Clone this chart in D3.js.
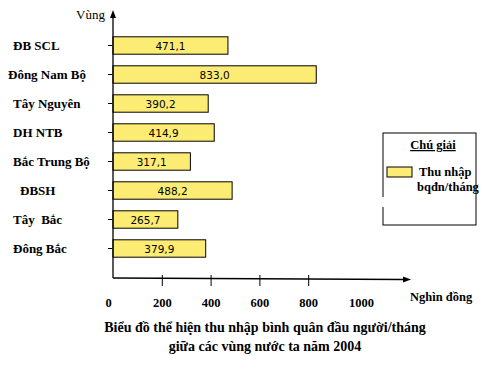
<!DOCTYPE html>
<html><head><meta charset="utf-8">
<script src="https://cdn.jsdelivr.net/npm/d3@7"></script>
<style>
html,body{margin:0;padding:0;background:#fff;}
svg{display:block;}
</style></head>
<body>
<script>
const categories = ["ĐB SCL","Đông Nam Bộ","Tây Nguyên","DH NTB","Bắc Trung Bộ","ĐBSH","Tây  Bắc","Đông Bắc"];
const values = [471.1, 833.0, 390.2, 414.9, 317.1, 488.2, 265.7, 379.9];
const valueLabels = ["471,1","833,0","390,2","414,9","317,1","488,2","265,7","379,9"];
const tickValues = [0, 200, 400, 600, 800, 1000];
const tickLabels = ["0","200","400","600","800","1000"];
const yAxisTitle = "Vùng";
const xAxisTitle = "Nghìn đồng";
const titleLines = ["Biểu đồ thể hiện thu nhập bình quân đầu người/tháng","giữa các vùng nước ta năm 2004"];
const legendTitle = "Chú giải";
const legendLines = ["Thu nhập","bqđn/tháng"];

const W = 491, H = 365;
const svg = d3.select("body").append("svg").attr("width", W).attr("height", H);
const serif = "Liberation Serif, Times New Roman, DejaVu Serif, serif";
const barColor = "#fcec74";

const axisX = 113, axisY = 278;
const x = d3.scaleLinear().domain([0, 1000]).range([axisX, 357]);
const y = d3.scaleBand().domain(categories).range([25.2, 268.8]).paddingInner(0.4).paddingOuter(0.4);

// bars
svg.append("g").selectAll("rect").data(values).join("rect")
  .attr("x", x(0)).attr("y", (d,i) => y(categories[i]))
  .attr("width", d => x(d) - x(0)).attr("height", y.bandwidth())
  .attr("fill", barColor).attr("stroke", "#000").attr("stroke-width", 1);

// value labels
svg.append("g").selectAll("text").data(values).join("text")
  .attr("x", d => (x(0) + x(d)) / 2)
  .attr("y", (d,i) => y(categories[i]) + y.bandwidth()/2 + 4)
  .attr("text-anchor", "middle")
  .attr("font-family", "'DejaVu Sans',sans-serif").attr("font-size", 10.5)
  .text((d,i) => valueLabels[i]);

// y axis
const yAxis = d3.axisLeft(y).tickSize(4).tickPadding(0).tickFormat("");
const gy = svg.append("g").attr("transform", `translate(${axisX-1},0)`).call(yAxis);
gy.select(".domain").remove();
gy.selectAll(".tick line").attr("stroke", "#000").attr("x2", -4);
svg.append("line").attr("x1", axisX).attr("x2", axisX).attr("y1", 16).attr("y2", axisY)
  .attr("stroke", "#000").attr("stroke-width", 1.3);
svg.append("path").attr("d", `M${axisX},10 L${axisX-3},18 L${axisX+3},18 Z`).attr("fill", "#000");

// category labels
svg.append("g").selectAll("text").data(categories).join("text")
  .attr("x", (d,i) => i === 1 ? 8 : (i === 5 ? 20 : 13))
  .attr("y", d => y(d) + y.bandwidth()/2 + 4)
  .attr("font-family", serif).attr("font-weight", "bold").attr("font-size", 13)
  .style("white-space", "pre")
  .text(d => d);

svg.append("text").attr("x", 105).attr("y", 19).attr("text-anchor", "end")
  .attr("font-family", serif).attr("font-size", 13).text(yAxisTitle);

// x axis
svg.append("line").attr("x1", axisX).attr("x2", 404).attr("y1", axisY).attr("y2", axisY + 1.5)
  .attr("stroke", "#000").attr("stroke-width", 1.3);
svg.append("path").attr("d", `M411,${axisY+1.5} L403,${axisY-1.5} L403,${axisY+4.5} Z`).attr("fill", "#000");
const xAxis = d3.axisBottom(x).tickValues(tickValues).tickSize(0).tickPadding(20)
  .tickFormat((d,i) => tickLabels[i]);
const gx = svg.append("g").attr("transform", `translate(0,${axisY})`).call(xAxis);
gx.select(".domain").remove();
gx.selectAll(".tick line").attr("stroke", "#000")
  .attr("y1", -3).attr("y2", 8)
  .attr("display", d => (d === 0 || d === 1000) ? "none" : null);
gx.selectAll(".tick text").attr("font-family", serif).attr("font-weight", "bold")
  .attr("font-size", 12.5).attr("fill", "#000")
  .attr("dx", d => d === 0 ? -5 : (d === 1000 ? 4 : 0));

svg.append("text").attr("x", 410).attr("y", 301)
  .attr("font-family", serif).attr("font-weight", "bold").attr("font-size", 12.5).text(xAxisTitle);

// title
svg.append("g").selectAll("text").data(titleLines).join("text")
  .attr("x", 265).attr("y", (d,i) => 332 + i*19).attr("text-anchor", "middle")
  .attr("font-family", serif).attr("font-weight", "bold").attr("font-size", 14)
  .text(d => d);

// legend
const lg = svg.append("g");
lg.append("rect").attr("x", 383).attr("y", 133).attr("width", 93).attr("height", 92)
  .attr("fill", "#fff").attr("stroke", "#000").attr("stroke-width", 1);
lg.append("rect").attr("x", 379).attr("y", 197).attr("width", 8).attr("height", 10).attr("fill", "#fff");
lg.append("text").attr("x", 433).attr("y", 149).attr("text-anchor", "middle")
  .attr("font-family", serif).attr("font-weight", "bold").attr("font-size", 12.5)
  .attr("text-decoration", "underline").text(legendTitle);
lg.append("rect").attr("x", 387).attr("y", 167).attr("width", 25).attr("height", 10)
  .attr("fill", barColor).attr("stroke", "#000").attr("stroke-width", 1);
lg.selectAll("text.li").data(legendLines).join("text").attr("class", "li")
  .attr("x", (d,i) => i === 0 ? 419 : 417).attr("y", (d,i) => 176 + i*15)
  .attr("font-family", serif).attr("font-weight", "bold").attr("font-size", 12.5)
  .text(d => d);
</script>
</body></html>
